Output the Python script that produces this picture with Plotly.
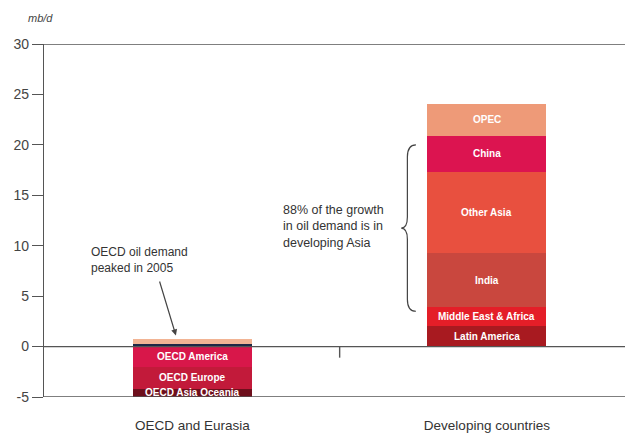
import plotly.graph_objects as go

# Regions on the x axis
regions = ["OECD and Eurasia", "Developing countries"]

# Change in oil demand (mb/d), stacked segments per region
oecd_segments = ["Other Eurasia", "Eurasia", "OECD America", "OECD Europe", "OECD Asia Oceania"]
oecd_values = [0.3, 0.5, -2.0, -2.2, -0.8]
oecd_colors = ["#1e2846", "#f2b494", "#d8174a", "#c21a3a", "#6e0f1c"]
oecd_labelled = [False, False, True, True, True]

dev_segments = ["Latin America", "Middle East & Africa", "India", "Other Asia", "China", "OPEC"]
dev_values = [2.0, 1.9, 5.4, 8.0, 3.6, 3.2]
dev_colors = ["#a81a20", "#e41e28", "#c9473e", "#e8503f", "#dc1450", "#ee9a78"]

y_ticks = [-5, 0, 5, 10, 15, 20, 25, 30]
y_tick_text = ["-5", "0", "5", "10", "15", "20", "25", "30"]

FONT = "Liberation Sans, Arial, sans-serif"

fig = go.Figure()
annotations = []

def add_stack(region, names, values, colors, labelled):
    pos_base, neg_base = 0.0, 0.0
    for name, val, col, lab in zip(names, values, colors, labelled):
        fig.add_trace(go.Bar(
            x=[region], y=[val], name=name, marker=dict(color=col, line=dict(width=0)),
            width=0.404, showlegend=False, hoverinfo="name+y",
        ))
        if val >= 0:
            mid = pos_base + val / 2
            pos_base += val
        else:
            mid = neg_base + val / 2
            neg_base += val
        if lab:
            annotations.append(dict(
                x=region, y=mid, text=f"<b>{name}</b>", showarrow=False,
                font=dict(family=FONT, size=10, color="white"),
                xanchor="center", yanchor="middle",
            ))

add_stack(regions[0], oecd_segments, oecd_values, oecd_colors, oecd_labelled)
add_stack(regions[1], dev_segments, dev_values, dev_colors, [True] * len(dev_segments))

# Text notes
annotations.append(dict(
    x=-0.35, y=8.6, xref="x", yref="y", text="OECD oil demand<br>peaked in 2005",
    showarrow=False, xanchor="left", yanchor="middle", align="left",
    font=dict(family=FONT, size=12, color="#333333"),
))
annotations.append(dict(
    x=-0.056, y=1.1, xref="x", yref="y", ax=-0.113, ay=6.6, axref="x", ayref="y",
    text="", showarrow=True, arrowhead=2, arrowsize=1, arrowwidth=1.2, arrowcolor="#444444",
))
annotations.append(dict(
    x=0.302, y=11.9, xref="x", yref="y",
    text="88% of the growth<br>in oil demand is in<br>developing Asia",
    showarrow=False, xanchor="left", yanchor="middle", align="left",
    font=dict(family=FONT, size=12.5, color="#333333"),
))
# unit label above the y axis
annotations.append(dict(
    x=0.0, y=1.0, xref="paper", yref="paper", text="<i>mb/d</i>", showarrow=False,
    xanchor="center", yanchor="bottom", xshift=-4, yshift=18,
    font=dict(family=FONT, size=11, color="#444444"),
))

line_col = "#555555"
shapes = []
for yv in (30, 0, -5):
    shapes.append(dict(type="line", xref="paper", yref="y", x0=0, x1=1, y0=yv, y1=yv,
                       line=dict(color=line_col, width=1.4 if yv != 0 else 1.2)))
# small divider tick between the two regions
shapes.append(dict(type="line", xref="x", yref="y", x0=0.5, x1=0.5, y0=0, y1=-1.1,
                   line=dict(color=line_col, width=1.4)))
# curly brace grouping the Asian segments
bx_end, bx_mid, bx_tip = 0.759, 0.730, 0.709
y_top, y_bot, y_tip = 20.0, 3.5, 11.75
brace = (f"M {bx_end},{y_top} Q {bx_mid},{y_top} {bx_mid},{y_top-1.2} "
         f"L {bx_mid},{y_tip+1.1} Q {bx_mid},{y_tip} {bx_tip},{y_tip} "
         f"Q {bx_mid},{y_tip} {bx_mid},{y_tip-1.1} "
         f"L {bx_mid},{y_bot+1.2} Q {bx_mid},{y_bot} {bx_end},{y_bot}")
shapes.append(dict(type="path", xref="x", yref="y", path=brace,
                   line=dict(color="#444444", width=1.2)))

fig.update_layout(
    width=625, height=434,
    margin=dict(l=44, r=0, t=44, b=37),
    paper_bgcolor="white", plot_bgcolor="white",
    barmode="relative", bargap=0,
    annotations=annotations, shapes=shapes,
    xaxis=dict(
        type="category", range=[-0.504, 1.469], showgrid=False, zeroline=False,
        showline=False, ticks="outside", ticklen=16, tickcolor="rgba(0,0,0,0)",
        tickfont=dict(family=FONT, size=13.5, color="#333333"),
    ),
    yaxis=dict(
        range=[-5, 30], tickvals=y_ticks, ticktext=y_tick_text,
        showgrid=False, zeroline=False,
        showline=True, linecolor=line_col, linewidth=1.4,
        ticks="outside", ticklen=11, tickcolor=line_col, tickwidth=1.4,
        tickfont=dict(family=FONT, size=14, color="#444444"),
    ),
    font=dict(family=FONT),
)

fig.write_html("out.html")
